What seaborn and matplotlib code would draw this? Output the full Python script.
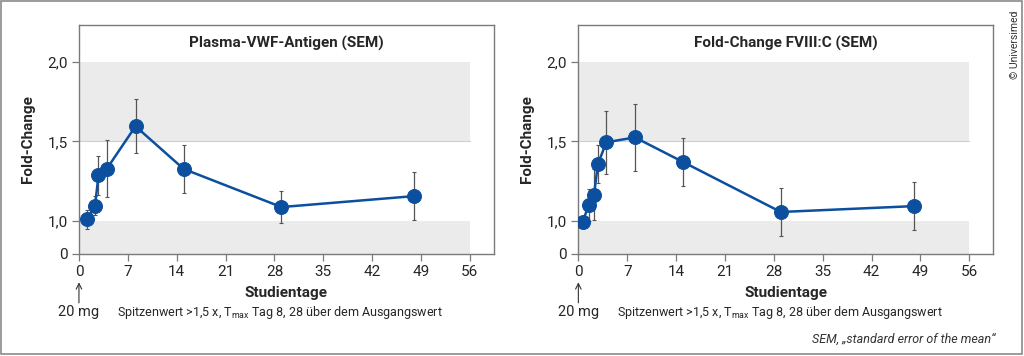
import matplotlib.pyplot as plt
from matplotlib.patches import Rectangle
import seaborn as sns
import pandas as pd

# Plasma-VWF-Antigen
vwf_day = [1.2, 2.3, 2.8, 4.0, 8.1, 15.0, 29.0, 48.0]
vwf_fc = [1.01, 1.095, 1.285, 1.328, 1.595, 1.326, 1.086, 1.155]
vwf_sem = [0.06, 0.06, 0.12, 0.18, 0.17, 0.15, 0.10, 0.15]

# FVIII:C
f8_day = [0.6, 1.5, 2.25, 2.8, 4.0, 8.1, 15.0, 29.0, 48.1]
f8_fc = [0.994, 1.097, 1.164, 1.357, 1.494, 1.525, 1.370, 1.055, 1.092]
f8_sem = [0.02, 0.10, 0.16, 0.12, 0.20, 0.21, 0.15, 0.15, 0.15]

titles = ["Plasma-VWF-Antigen (SEM)", "Fold-Change FVIII:C (SEM)"]
x_ticks = [0, 7, 14, 21, 28, 35, 42, 49, 56]
# the y axis is broken: "0" is drawn just below 1,0
y_zero_pos = 0.792
y_ticks = [y_zero_pos, 1.0, 1.5, 2.0]
y_labels = ["0", "1,0", "1,5", "2,0"]

sns.set_style("white")
plt.rcParams['font.family'] = ['Roboto', 'DejaVu Sans']

blue = '#0b4f9e'
band = '#ebebeb'
frame = '#7a7a7a'

fig = plt.figure(figsize=[10.24, 3.56], dpi=100)
fig.patches.append(Rectangle((0.001, 0.006), 0.997, 0.99, transform=fig.transFigure,
                             fill=False, edgecolor='#8a8a8a', linewidth=1.2))

panels = [(0.0771, vwf_day, vwf_fc, vwf_sem), (0.5648, f8_day, f8_fc, f8_sem)]
for i, (left, day, fc, sem) in enumerate(panels):
    ax = fig.add_axes([left, 0.2873, 0.405, 0.6424])
    ax.axhspan(y_zero_pos, 1.0, xmin=0, xmax=56 / 59.4, color=band, lw=0, zorder=0)
    ax.axhspan(1.5, 2.0, xmin=0, xmax=56 / 59.4, color=band, lw=0, zorder=0)
    ax.plot([0, 56], [1.5, 1.5], color='#d0d0d0', lw=0.8, zorder=0)
    ax.errorbar(day, fc, yerr=sem, fmt='none', ecolor='#555555', elinewidth=0.9,
                capsize=1.5, capthick=0.8, zorder=2)
    df = pd.DataFrame({'Studientage': day, 'Fold-Change': fc})
    sns.lineplot(data=df, x='Studientage', y='Fold-Change', ax=ax, color=blue,
                 marker='o', markersize=10, markeredgecolor=blue, linewidth=1.8,
                 zorder=3, estimator=None, sort=False)
    ax.set_xlim(0, 59.4)
    ax.set_ylim(y_zero_pos, 2.233)
    ax.set_xticks(x_ticks)
    ax.set_yticks(y_ticks)
    ax.set_yticklabels(y_labels)
    ax.tick_params(axis='both', labelsize=11, length=5, width=0.9, color=frame,
                   bottom=True, left=True, direction='out', pad=3)
    for s in ax.spines.values():
        s.set_color(frame)
        s.set_linewidth(1.0)
    ax.set_xlabel('Studientage', fontsize=11, fontweight='bold', labelpad=5)
    ax.set_ylabel('Fold-Change', fontsize=11, fontweight='bold', labelpad=9)
    ax.set_title(titles[i], fontsize=11, fontweight='bold', y=0.865)

    # dose arrow and annotation below the axis
    ax.annotate('', xy=(0, -0.125), xytext=(0, -0.215), xycoords=('data', 'axes fraction'),
                textcoords=('data', 'axes fraction'),
                arrowprops=dict(arrowstyle='->', color='#333333', lw=0.8,
                                shrinkA=0, shrinkB=0))
    ax.text(0, -0.255, '20 mg', transform=ax.get_xaxis_transform(), ha='center',
            va='center', fontsize=10.5)
    ax.text(5.5, -0.255, r'Spitzenwert >1,5 x, T$_{\mathregular{max}}$ Tag 8, 28 über dem Ausgangswert',
            transform=ax.get_xaxis_transform(), ha='left', va='center', fontsize=9.0)

fig.text(0.972, 0.048, 'SEM, „standard error of the mean“', ha='right', va='center',
         fontsize=9, style='italic', color='#333333')
fig.text(0.991, 0.97, '© Universimed', rotation=90, ha='center', va='top',
         fontsize=7.5, color='#333333')

plt.savefig('out.png', dpi=100)
plt.close()
